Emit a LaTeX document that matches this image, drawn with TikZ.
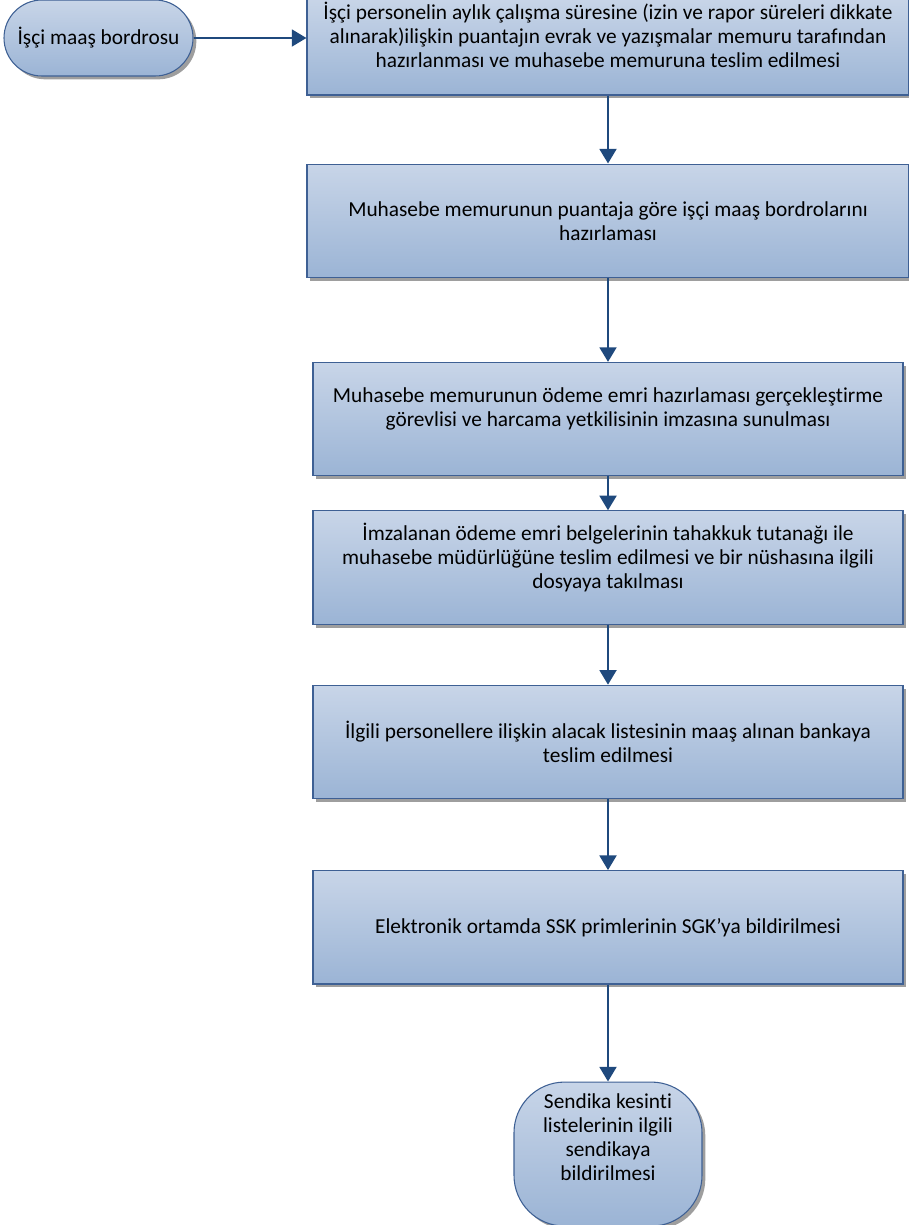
\documentclass[tikz,border=0pt]{standalone}
\usepackage{fontspec}
\setmainfont{Carlito}[Ligatures=NoCommon]
\usetikzlibrary{arrows.meta}
\usetikzlibrary{positioning}
\usetikzlibrary{shadows}
\usetikzlibrary{shapes.misc}

\definecolor{boxtop}{RGB}{200,213,232}
\definecolor{boxbottom}{RGB}{155,180,213}
\definecolor{boxline}{RGB}{62,96,148}
\definecolor{arrowblue}{RGB}{31,73,125}

\begin{document}
\begin{tikzpicture}[
    x=0.75pt, y=-0.75pt,
    box/.style={rectangle, draw=boxline, line width=0.8pt, top color=boxtop, bottom color=boxbottom,
        minimum width=442.5pt, minimum height=85pt, align=center, inner sep=0pt,
        drop shadow={shadow xshift=2.5pt, shadow yshift=-2.5pt, fill=black!38, opacity=1}},
    widebox/.style={box, minimum width=451.5pt},
    terminal/.style={box, rounded rectangle, minimum width=141.75pt, minimum height=57pt},
    endterminal/.style={box, rounded corners=38pt, minimum width=141pt, minimum height=108pt},
    arrow/.style={-{Triangle[length=11pt, width=12.5pt]}, line width=2.2pt, draw=arrowblue},
    every node/.style={font=\fontsize{16}{18}\selectfont}
    ]

    \useasboundingbox (0,0) rectangle (909,1225);

    % Nodes
    \node[terminal] (start) at (98.5, 38) {İşçi maaş bordrosu};
    \node[widebox, minimum height=72.75pt] (puantaj) at (608, 46.5) {İşçi personelin aylık çalışma süresine (izin ve rapor süreleri dikkate\\alınarak)ilişkin puantajın evrak ve yazışmalar memuru tarafından\\hazırlanması ve muhasebe memuruna teslim edilmesi\\~};
    \node[widebox, below=51pt of puantaj] (bordro) {Muhasebe memurunun puantaja göre işçi maaş bordrolarını\\hazırlaması};
    \node[box, below=63pt of bordro] (odeme) {Muhasebe memurunun ödeme emri hazırlaması gerçekleştirme\\görevlisi ve harcama yetkilisinin imzasına sunulması\\~};
    \node[box, below=25.5pt of odeme] (teslim) {İmzalanan ödeme emri belgelerinin tahakkuk tutanağı ile\\muhasebe müdürlüğüne teslim edilmesi ve bir nüshasına ilgili\\dosyaya takılması\\~};
    \node[box, below=45pt of teslim] (banka) {İlgili personellere ilişkin alacak listesinin maaş alınan bankaya\\teslim edilmesi};
    \node[box, below=53.25pt of banka] (sgk) {Elektronik ortamda SSK primlerinin SGK’ya bildirilmesi};
    \node[endterminal, below=72.75pt of sgk] (sendika) {Sendika kesinti\\listelerinin ilgili\\sendikaya\\bildirilmesi\\[7pt]~};

    \draw[arrow] (start.east) -- (start.east -| puantaj.west);

    \draw[arrow] (puantaj) -- (bordro);

    \draw[arrow] (bordro) -- (odeme);

    \draw[arrow] (odeme) -- (teslim);

    \draw[arrow] (teslim) -- (banka);

    \draw[arrow] (banka) -- (sgk);

    \draw[arrow] (sgk) -- (sendika);

\end{tikzpicture}
\end{document}
